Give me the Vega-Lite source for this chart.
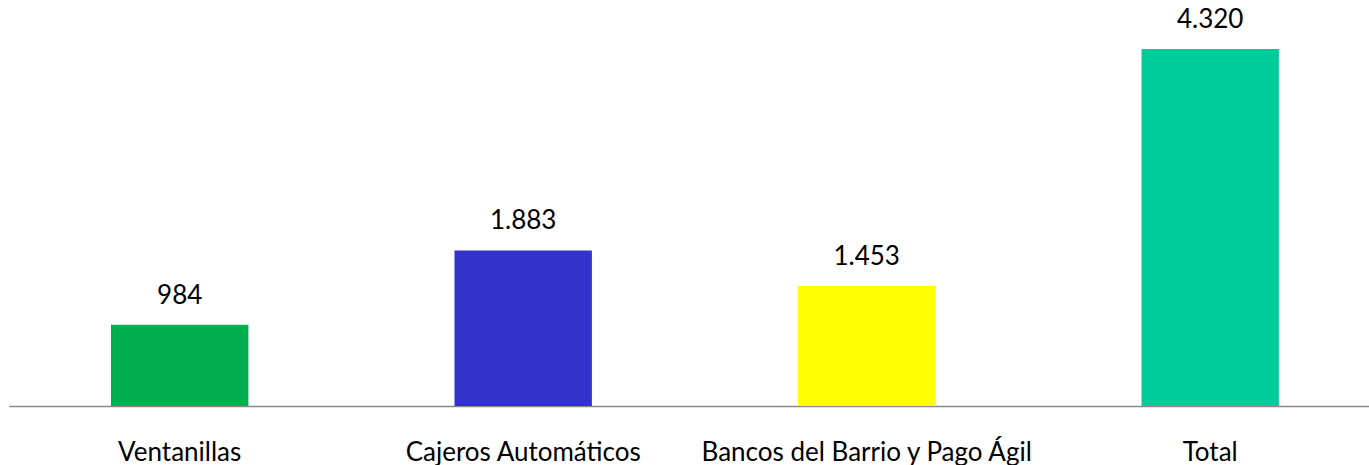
{
  "$schema": "https://vega.github.io/schema/vega-lite/v6.json",
  "width": 1360,
  "height": 406,
  "autosize": {"type": "none"},
  "padding": {"left": 9, "top": 0, "right": 0, "bottom": 59},
  "background": "white",
  "config": {"view": {"stroke": null}, "font": "Lato"},
  "data": {
    "values": [
      {"canal": "Ventanillas", "valor": 984},
      {"canal": "Cajeros Automáticos", "valor": 1883},
      {"canal": "Bancos del Barrio y Pago Ágil", "valor": 1453},
      {"canal": "Total", "valor": 4320}
    ]
  },
  "encoding": {
    "x": {
      "field": "canal",
      "type": "nominal",
      "sort": null,
      "scale": {"paddingInner": 0.6, "paddingOuter": 0.2796, "align": 0.531},
      "axis": {
        "title": null,
        "labelAngle": 0,
        "ticks": false,
        "domainColor": "#898989",
        "domainWidth": 1.5,
        "labelFont": "Lato",
        "labelFontSize": 26,
        "labelColor": "#000000",
        "labelBaseline": "alphabetic",
        "labelPadding": 54,
        "labelLimit": 0,
        "labelOverlap": false
      }
    },
    "y": {
      "field": "valor",
      "type": "quantitative",
      "scale": {"domain": [0, 4913], "nice": false, "zero": true},
      "axis": null
    }
  },
  "layer": [
    {
      "mark": {"type": "bar"},
      "encoding": {
        "color": {
          "field": "canal",
          "type": "nominal",
          "scale": {
            "domain": ["Ventanillas", "Cajeros Automáticos", "Bancos del Barrio y Pago Ágil", "Total"],
            "range": ["#00B050", "#3333CC", "#FFFF00", "#00CC99"]
          },
          "legend": null
        }
      }
    },
    {
      "mark": {"type": "text", "baseline": "alphabetic", "dy": -21, "fontSize": 26, "font": "Lato", "color": "#000000"},
      "encoding": {
        "text": {"field": "valor", "type": "quantitative", "format": ",d", "formatType": "number"}
      }
    }
  ],
  "usermeta": {"embedOptions": {"formatLocale": {"decimal": ",", "thousands": ".", "grouping": [3], "currency": ["", ""]}}}
}
